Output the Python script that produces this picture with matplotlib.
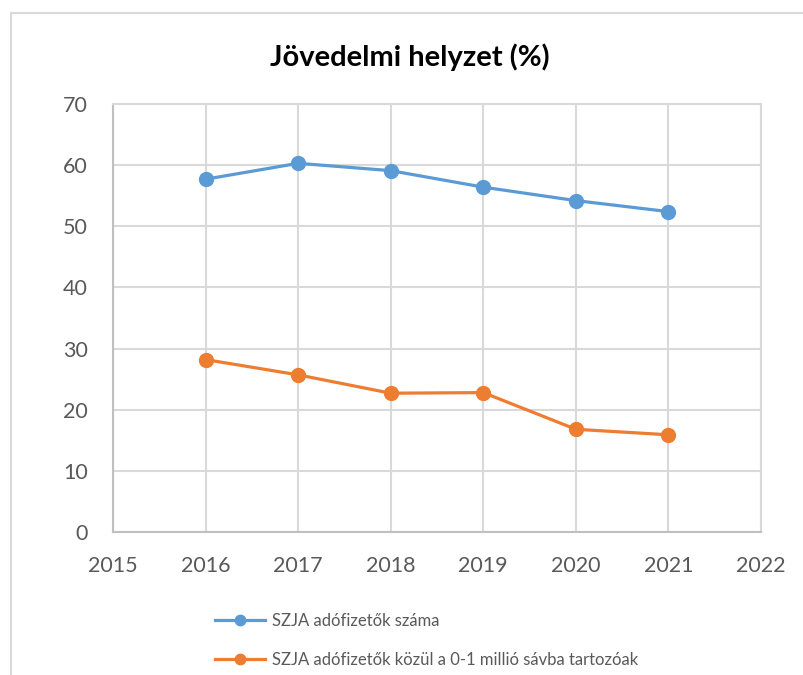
import matplotlib
matplotlib.use("Agg")
import matplotlib.pyplot as plt
from matplotlib.patches import Rectangle

plt.rcParams['font.family'] = ['Lato', 'DejaVu Sans']

# values
years = [2016, 2017, 2018, 2019, 2020, 2021]
szja_total = [57.7, 60.3, 59.1, 56.4, 54.2, 52.4]
szja_low = [28.2, 25.7, 22.7, 22.8, 16.8, 15.9]
labels = ["SZJA adófizetők száma",
          "SZJA adófizetők közül a 0-1 millió sávba tartozóak"]
title = "Jövedelmi helyzet (%)"

blue = '#5B9BD5'
orange = '#ED7D31'
grey_txt = '#595959'
grid_c = '#D9D9D9'

fig = plt.figure(figsize=(8.04, 6.75), dpi=100)
# outer chart border (cut off on right / bottom like the screenshot)
fig.patches.append(Rectangle((11/804, -0.1), 1.2, 1 - 13/675 + 0.1,
                             transform=fig.transFigure, fill=False,
                             edgecolor=grid_c, linewidth=1.5))

ax = fig.add_axes([113/804, 1 - 532/675, 648/804, 428/675])
ax.plot(years, szja_total, color=blue, lw=2.3, marker='o', ms=10, label=labels[0])
ax.plot(years, szja_low, color=orange, lw=2.3, marker='o', ms=10, label=labels[1])

ax.set_xlim(2015, 2022)
ax.set_ylim(0, 70)
ax.set_xticks(range(2015, 2023))
ax.set_yticks(range(0, 71, 10))
ax.grid(True, color=grid_c, lw=1.5)
ax.set_axisbelow(True)
for s in ax.spines.values():
    s.set_color(grid_c)
    s.set_linewidth(1.5)
ax.spines['left'].set_color('#BFBFBF')
ax.spines['bottom'].set_color('#BFBFBF')
ax.tick_params(length=0, labelsize=15.5, labelcolor=grey_txt)
ax.tick_params(axis='x', pad=17)
ax.tick_params(axis='y', pad=18)

fig.text(410/804, 1 - 57/675, title, ha='center', va='center',
         fontsize=21, fontweight='bold', color='black')

fig.legend(loc='upper left', bbox_to_anchor=(200/804, 1 - 598/675),
           frameon=False, fontsize=12, labelcolor=grey_txt, markerscale=0.75,
           handlelength=3.0, handletextpad=0.4, labelspacing=1.4)

fig.savefig('out.png', dpi=100)
